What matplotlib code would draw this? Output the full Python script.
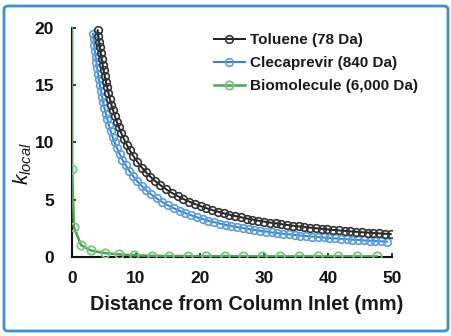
import matplotlib
matplotlib.use("Agg")
import matplotlib.pyplot as plt
from matplotlib.patches import FancyBboxPatch

plt.rcParams['font.family'] = ['Liberation Sans', 'DejaVu Sans']
plt.rcParams['mathtext.fontset'] = 'custom'
plt.rcParams['mathtext.it'] = 'Liberation Sans:italic'
plt.rcParams['mathtext.rm'] = 'Liberation Sans'

# ---- data ----
toluene_x = [4.01, 4.12, 4.24, 4.37, 4.50, 4.64, 4.79, 4.95, 5.12, 5.30, 5.49, 5.70,
             5.92, 6.16, 6.42, 6.70, 7.00, 7.34, 7.70, 8.10, 8.54, 9.03, 9.58, 10.20,
             10.90, 11.53, 12.24, 13.03, 13.82, 14.70, 15.6, 16.5, 17.4, 18.3, 19.2,
             20.1, 21.0, 21.9, 22.8, 23.7, 24.6, 25.5, 26.4, 27.3, 28.2, 29.1, 30.0,
             30.9, 31.8, 32.7, 33.6, 34.5, 35.4, 36.3, 37.2, 38.1, 39.0, 39.9, 40.8,
             41.7, 42.6, 43.5, 44.4, 45.3, 46.2, 47.1, 48.0, 48.9, 49.8]
toluene_k = [19.8, 19.3, 18.8, 18.3, 17.8, 17.3, 16.8, 16.3, 15.8, 15.3, 14.8, 14.3,
             13.8, 13.3, 12.8, 12.3, 11.8, 11.3, 10.8, 10.3, 9.8, 9.3, 8.8, 8.3,
             7.8, 7.4, 7.0, 6.6, 6.25, 5.9, 5.58, 5.30, 5.05, 4.82, 4.61,
             4.42, 4.24, 4.08, 3.94, 3.80, 3.67, 3.56, 3.45, 3.34, 3.25, 3.16, 3.07,
             2.99, 2.92, 2.85, 2.78, 2.71, 2.65, 2.60, 2.54, 2.49, 2.44, 2.39, 2.34,
             2.30, 2.26, 2.22, 2.18, 2.14, 2.11, 2.07, 2.04, 2.01, 1.98]

clec_x = [3.29, 3.38, 3.48, 3.58, 3.69, 3.81, 3.94, 4.07, 4.21, 4.36, 4.52, 4.69,
          4.87, 5.07, 5.28, 5.51, 5.76, 6.03, 6.33, 6.66, 7.02, 7.43, 7.87, 8.38,
          8.95, 9.53, 10.19, 10.86, 11.62, 12.37, 13.22, 14.05, 14.98, 15.9, 16.8,
          17.7, 18.6, 19.5, 20.4, 21.3, 22.2, 23.1, 24.0, 24.9, 25.8, 26.7, 27.6,
          28.5, 29.4, 30.3, 31.2, 32.1, 33.0, 33.9, 34.8, 35.7, 36.6, 37.5, 38.4,
          39.3, 40.2, 41.1, 42.0, 42.9, 43.8, 44.7, 45.6, 46.5, 47.4, 48.3, 49.2]
clec_k = [19.5, 19.0, 18.5, 18.0, 17.5, 17.0, 16.5, 16.0, 15.5, 15.0, 14.5, 14.0,
          13.5, 13.0, 12.5, 12.0, 11.5, 11.0, 10.5, 10.0, 9.5, 9.0, 8.5, 8.0,
          7.5, 7.05, 6.6, 6.2, 5.8, 5.45, 5.1, 4.8, 4.5, 4.24, 4.01,
          3.81, 3.62, 3.45, 3.30, 3.15, 3.02, 2.90, 2.79, 2.69, 2.59, 2.50, 2.42,
          2.34, 2.27, 2.20, 2.13, 2.07, 2.01, 1.96, 1.90, 1.85, 1.81, 1.76, 1.72,
          1.68, 1.64, 1.60, 1.56, 1.53, 1.49, 1.46, 1.43, 1.40, 1.37, 1.35, 1.32]

bio_x = [0.0, 0.02, 0.3, 1.4, 2.9, 5.1, 7.3, 9.7, 12.5, 15.2, 18.1, 21.0, 23.9,
         26.7, 29.7, 32.5, 35.5, 38.5, 41.6, 44.6, 47.6]
bio_k = [20.0, 7.65, 2.6, 1.02, 0.55, 0.32, 0.2, 0.12, 0.08, 0.06, 0.05, 0.04, 0.04,
         0.03, 0.03, 0.03, 0.03, 0.03, 0.03, 0.03, 0.03]

labels = ['Toluene (78 Da)', 'Clecaprevir (840 Da)', 'Biomolecule (6,000 Da)']
x_ticks = [0, 10, 20, 30, 40, 50]
y_ticks = [0, 5, 10, 15, 20]

# ---- figure ----
fig = plt.figure(figsize=(4.52, 3.36), dpi=100)
ax = fig.add_axes([72 / 452, 79.3 / 336, 320 / 452, 228.7 / 336 * 20.2 / 20])

black = '#1e1e1e'
blue = '#2f7fcf'
blue_m = '#5c9ddc'
green = '#4aa552'
green_m = '#7cc47f'

ax.plot(bio_x, bio_k, color=green, lw=1.8, marker='o', ms=6, mfc='none',
        mec=green_m, mew=1.3, label=labels[2], zorder=3,
        markevery=list(range(1, len(bio_x))))
ax.plot(clec_x, clec_k, color=blue, lw=1.4, marker='o', ms=5.5, mfc='none',
        mec=blue_m, mew=1.2, label=labels[1], zorder=4)
ax.plot(toluene_x, toluene_k, color=black, lw=1.4, marker='o', ms=5.5, mfc='none',
        mec='#333333', mew=1.2, label=labels[0], zorder=5)

ax.set_xlim(0, 50)
ax.set_ylim(0, 20.2)
ax.set_xticks(x_ticks)
ax.set_yticks(y_ticks)
ax.spines['top'].set_visible(False)
ax.spines['right'].set_visible(False)
ax.spines['left'].set_bounds(0, 20)
for s in ('left', 'bottom'):
    ax.spines[s].set_linewidth(1.5)
    ax.spines[s].set_color('#111111')
ax.tick_params(axis='both', direction='in', length=3, width=1.2, colors='#111111',
               labelsize=12.5)
ax.tick_params(axis='x', pad=10)
ax.tick_params(axis='y', pad=13)
for lab in ax.get_xticklabels() + ax.get_yticklabels():
    lab.set_fontweight('bold')
    lab.set_color('#111111')

fig.text(247 / 452, 1 - 305 / 336, 'Distance from Column Inlet (mm)', ha='center',
         va='center', fontsize=14.3, fontweight='bold', color='#1a1a1a')
fig.text(23 / 452, 1 - 164 / 336, r'$k_{local}$', rotation=90, ha='center',
         va='center', fontsize=15, color='#111111')

h, l = ax.get_legend_handles_labels()
order = [2, 1, 0]
leg = fig.legend([h[i] for i in order], [l[i] for i in order], loc='upper left',
                 bbox_to_anchor=(214 / 452, 1 - 33 / 336), frameon=False,
                 prop={'weight': 'bold', 'size': 11}, handlelength=2.0,
                 handletextpad=0.35, labelspacing=0.6, borderpad=0, borderaxespad=0)
for t in leg.get_texts():
    t.set_color('#1a1a1a')

border = FancyBboxPatch((4 / 452, 5 / 336), 444 / 452, 325 / 336,
                        boxstyle='round,pad=0,rounding_size=0.01',
                        transform=fig.transFigure, fill=False,
                        edgecolor='#3b8fd6', linewidth=2)
fig.patches.append(border)

fig.savefig('out.png', dpi=100)
